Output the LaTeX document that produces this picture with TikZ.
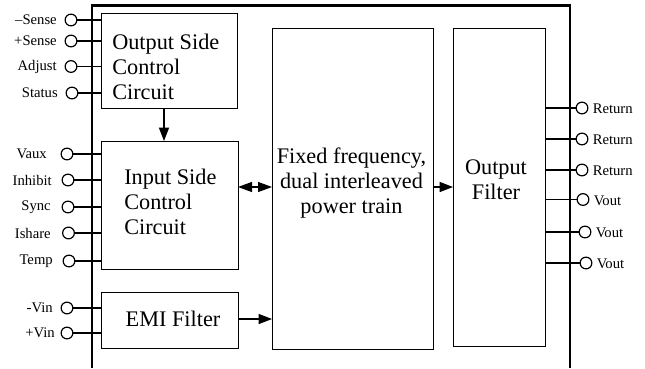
\documentclass[tikz,border=0pt]{standalone}
\usepackage{fontspec}
\setmainfont{Liberation Serif}
\usetikzlibrary{arrows.meta}
\tikzset{
 x=0.75pt,y=-0.75pt,
 blk/.style={draw=black,line width=1.1pt,inner sep=0pt,minimum width=0pt},
 blktext/.style={font=\fontsize{16.7}{18.6}\selectfont,align=left,inner sep=0pt,anchor=west},
 blkctext/.style={font=\fontsize{16.7}{18.6}\selectfont,align=center,inner sep=0pt},
 pinring/.style={circle,draw=black,line width=0.9pt,minimum size=8.8pt,inner sep=0pt},
 pinlabel/.style={font=\fontsize{11}{13}\selectfont,inner sep=0pt},
 wire/.style={line width=0.9pt},
 flow/.style={line width=0.9pt,-{Triangle[length=10pt,width=7.5pt]}},
 flowboth/.style={line width=0.9pt,{Triangle[length=10.5pt,width=7.5pt]}-{Triangle[length=10.5pt,width=7.5pt]}},
}
\newcommand{\boxat}[5]{\node[blk,anchor=north west,minimum width=#4*0.75pt,minimum height=#5*0.75pt] (#1) at (#2,#3) {};}
\newcommand{\lpin}[6]{% name, ring x, y, label x(right), label, box
 \node[pinring] (#1) at (#2,#3) {};
 \node[pinlabel,anchor=east] (#1t) at (#4,#3) {#5};
 \coordinate (#1e) at (#6,#3);
 \draw[wire] (#1) -- (#1e);}
\newcommand{\rpin}[5]{% name, ring x, y, label, box
 \node[pinring] (#1) at (#2,#3) {};
 \node[pinlabel,anchor=west] (#1t) at (#2+10.5,#3+1) {#4};
 \coordinate (#1e) at (#5,#3+0);
 \draw[wire] (#1e) -- (#1);}
\begin{document}
\begin{tikzpicture}
\useasboundingbox (0,0) rectangle (645,368);
\coordinate (ca) at (92,368);
\coordinate (cb) at (92,5.5);
\coordinate (cc) at (570,5.5);
\coordinate (cd) at (570,368);
\draw[line width=2pt] (ca) -- (cb) -- (cc) -- (cd);
\boxat{osc}{101}{13}{136}{95}
\boxat{isc}{101}{141}{137}{128}
\boxat{emi}{101}{292}{137}{56}
\boxat{pwr}{272}{28}{161}{321}
\boxat{ofl}{453}{28}{92}{318}
\node[blktext] (osct) at (112,67) {Output Side\\Control\\Circuit};
\node[blktext] (isct) at (124,202) {Input Side\\Control\\Circuit};
\node[blkctext] (emit) at (173,319) {EMI Filter};
\node[blkctext] (pwrt) at (351.5,183) {Fixed frequency,\\dual interleaved\\power train};
\node[blkctext] (oflt) at (496,179.5) {Output\\Filter};
\lpin{a}{71}{20}{57}{–Sense}{101}
\lpin{b}{71}{41}{57}{+Sense}{101}
\lpin{c}{71}{66.5}{57}{Adjust}{101}
\lpin{d}{72}{93}{58}{Status}{101}
\lpin{e}{67}{154}{47}{Vaux}{101}
\lpin{f}{68}{180}{52}{Inhibit}{101}
\lpin{g}{68}{207}{51}{Sync}{101}
\lpin{h}{68.5}{233}{51}{Ishare}{101}
\lpin{i}{69}{261}{53}{Temp}{101}
\lpin{j}{67}{308}{53}{-Vin}{101}
\lpin{k}{67}{333}{55}{+Vin}{101}
\rpin{r1}{582}{108}{Return}{546}
\rpin{r2}{582}{139}{Return}{546}
\rpin{r3}{582}{170}{Return}{546}
\rpin{r4}{583}{199.5}{Vout}{546}
\rpin{r5}{585}{232}{Vout}{546}
\rpin{r6}{586}{263}{Vout}{546}
\coordinate (p1) at (164,108);
\coordinate (p2) at (164,141);
\draw[flow] (p1) -- (p2);
\coordinate (q1) at (238,187);
\coordinate (q2) at (272,187);
\draw[flowboth] (q1) -- (q2);
\coordinate (s1) at (238,319);
\coordinate (s2) at (272,319);
\draw[flow] (s1) -- (s2);
\coordinate (t1) at (433,187);
\coordinate (t2) at (453,187);
\draw[flow] (t1) -- (t2);
\end{tikzpicture}
\end{document}
